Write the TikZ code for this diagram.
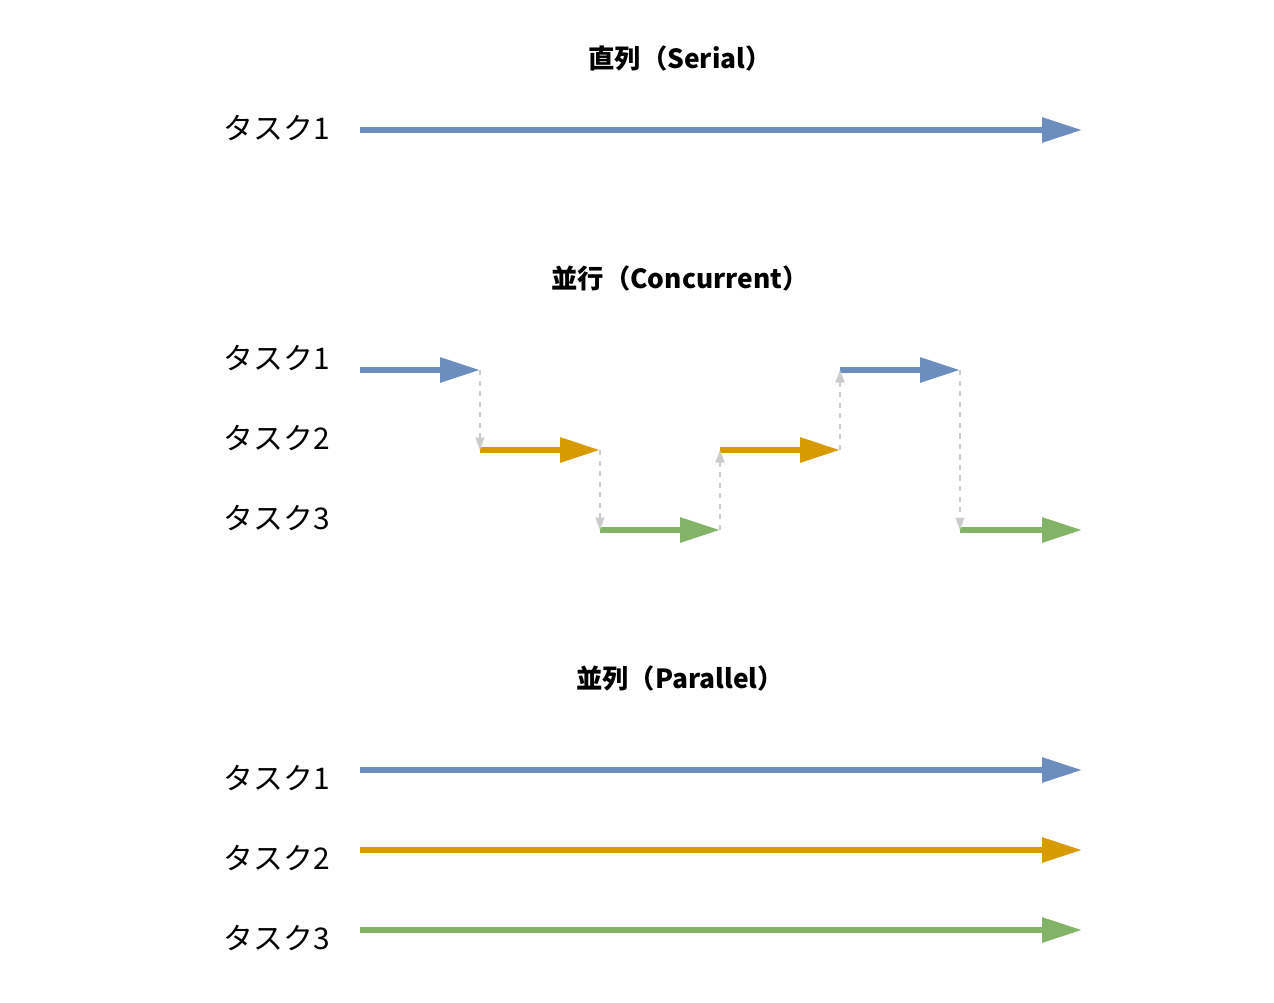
\documentclass[tikz,border=0pt]{standalone}
\usepackage{fontspec}
\setmainfont{Liberation Sans}
\newfontfamily\jp{Noto Sans CJK JP}
\usetikzlibrary{arrows.meta}
\definecolor{taskblue}{HTML}{6C8EBF}
\definecolor{taskorange}{HTML}{D79B00}
\definecolor{taskgreen}{HTML}{82B366}
\definecolor{switchgray}{HTML}{CCCCCC}

\begin{document}
\begin{tikzpicture}[x=0.02cm,y=-0.02cm,
  task/.style={line width=3.4pt,-{Triangle[length=0.8cm,width=0.48cm]}},
  switch/.style={switchgray,line width=0.6pt,dashed,-{Triangle[length=0.25cm,width=0.18cm]}},
  label node/.style={font=\jp\fontsize{17}{20}\selectfont,anchor=east},
  title node/.style={font=\jp\bfseries\fontsize{15}{18}\selectfont}]
  \useasboundingbox (0,0) rectangle (1274,1002);
  % serial
  \node[title node] (serial) at (680,58) {直列（Serial）};
  \node[label node] (s1) at (336,128) {タスク1};
  \coordinate (s1a) at (360,130);
  \coordinate (s1b) at (1082,130);
  \draw[task,taskblue] (s1a) -- (s1b);
  % concurrent
  \node[title node] (concurrent) at (680,278) {並行（Concurrent）};
  \node[label node] (c1) at (336,358) {タスク1};
  \node[label node] (c2) at (336,438) {タスク2};
  \node[label node] (c3) at (336,518) {タスク3};
  \foreach \x in {360,480,600,720,840,960,1082}{
    \coordinate (a\x) at (\x,370);
    \coordinate (b\x) at (\x,450);
    \coordinate (c\x) at (\x,530);
  }
  \draw[task,taskblue] (a360) -- (a480);
  \draw[task,taskorange] (b480) -- (b600);
  \draw[task,taskgreen] (c600) -- (c720);
  \draw[task,taskorange] (b720) -- (b840);
  \draw[task,taskblue] (a840) -- (a960);
  \draw[task,taskgreen] (c960) -- (c1082);
  \draw[switch] (a480) -- (b480);
  \draw[switch] (b600) -- (c600);
  \draw[switch] (c720) -- (b720);
  \draw[switch] (b840) -- (a840);
  \draw[switch] (a960) -- (c960);
  % parallel
  \node[title node] (parallel) at (680,678) {並列（Parallel）};
  \node[label node] (p1) at (336,778) {タスク1};
  \node[label node] (p2) at (336,858) {タスク2};
  \node[label node] (p3) at (336,938) {タスク3};
  \coordinate (p1a) at (360,770); \coordinate (p1b) at (1082,770);
  \coordinate (p2a) at (360,850); \coordinate (p2b) at (1082,850);
  \coordinate (p3a) at (360,930); \coordinate (p3b) at (1082,930);
  \draw[task,taskblue] (p1a) -- (p1b);
  \draw[task,taskorange] (p2a) -- (p2b);
  \draw[task,taskgreen] (p3a) -- (p3b);
\end{tikzpicture}
\end{document}
